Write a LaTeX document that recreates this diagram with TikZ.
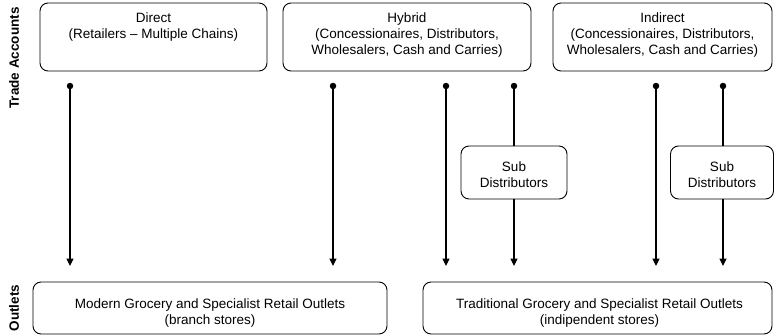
\documentclass[tikz,border=0pt]{standalone}
\usepackage{fontspec}
\setmainfont{Liberation Sans}
\usetikzlibrary{arrows.meta}
\begin{document}
\begin{tikzpicture}[x=1pt,y=-1pt,
  every node/.style={font=\fontsize{13.5}{16.2}\selectfont, inner sep=0pt, outer sep=0pt},
  box/.style={draw, rounded corners=8pt, line width=0.9pt},
  boxtext/.style={align=center, anchor=north},
  dot/.style={circle, fill=black, minimum size=6.5pt},
  flow/.style={line width=1.2pt, -{Triangle[length=7.5pt,width=7pt]}},
  link/.style={line width=1.2pt},
  side/.style={rotate=90, font=\fontsize{13.5}{16}\selectfont\bfseries}]
\useasboundingbox (0,0) rectangle (774,335);

% side captions
\node[side] (ta) at (14,58) {Trade Accounts};
\node[side] (ol) at (14,308) {Outlets};

% trade account boxes
\node[box, minimum width=227pt, minimum height=68pt] (direct) at (153.5,37) {};
\node[boxtext] (directt) at ([yshift=-9.5pt]direct.north) {Direct\\(Retailers -- Multiple Chains)};
\node[box, minimum width=248pt, minimum height=68pt] (hybrid) at (407,37) {};
\node[boxtext] (hybridt) at ([yshift=-9.5pt]hybrid.north) {Hybrid\\(Concessionaires, Distributors,\\Wholesalers, Cash and Carries)};
\node[box, minimum width=219pt, minimum height=68pt] (indirect) at (662.5,37) {};
\node[boxtext] (indirectt) at ([yshift=-9.5pt]indirect.north) {Indirect\\(Concessionaires, Distributors,\\Wholesalers, Cash and Carries)};

% sub distributor boxes
\node[box, minimum width=106pt, minimum height=53pt] (sub1) at (514,172.5) {};
\node[boxtext] (sub1t) at ([yshift=-15.5pt]sub1.north) {Sub\\Distributors};
\node[box, minimum width=103pt, minimum height=53pt] (sub2) at (722,172.5) {};
\node[boxtext] (sub2t) at ([yshift=-15.5pt]sub2.north) {Sub\\Distributors};

% outlet boxes
\node[box, minimum width=354pt, minimum height=52pt] (modern) at (210,308) {};
\node[boxtext] (modernt) at ([yshift=-16.5pt]modern.north) {Modern Grocery and Specialist Retail Outlets\\(branch stores)};
\node[box, minimum width=349pt, minimum height=52pt] (trad) at (597.5,308) {};
\node[boxtext] (tradt) at ([yshift=-16.5pt,xshift=2pt]trad.north) {Traditional Grocery and Specialist Retail Outlets\\(indipendent stores)};

% start dots
\node[dot] (d1) at (70,86) {};
\node[dot] (d2) at (333,86) {};
\node[dot] (d3) at (446,86) {};
\node[dot] (d4) at (514,86) {};
\node[dot] (d5) at (656,86) {};
\node[dot] (d6) at (723,86) {};

% arrow ends above the outlets
\coordinate (e1) at (70,266);
\coordinate (e2) at (333,266);
\coordinate (e3) at (446,266);
\coordinate (e4) at (514,266);
\coordinate (e5) at (656,266);
\coordinate (e6) at (723,266);

% flows
\draw[flow] (d1.center) -- (e1);
\draw[flow] (d2.center) -- (e2);
\draw[flow] (d3.center) -- (e3);
\draw[link] (d4.center) -- (sub1.north);
\draw[flow] (sub1.south) -- (e4);
\draw[flow] (d5.center) -- (e5);
\draw[link] (d6.center) -- (d6 |- sub2.north);
\draw[flow] (d6 |- sub2.south) -- (e6);
\end{tikzpicture}
\end{document}
